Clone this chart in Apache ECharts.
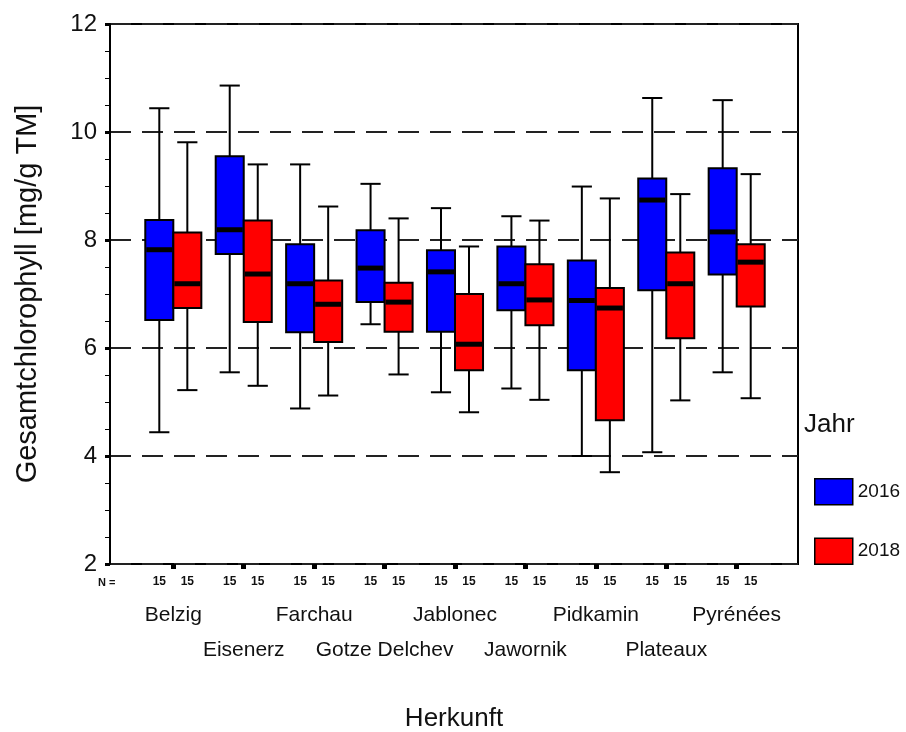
<!DOCTYPE html>
<html><head><meta charset="utf-8">
<script src="https://cdn.jsdelivr.net/npm/echarts@6/dist/echarts.min.js"></script>
<style>html,body{margin:0;padding:0;background:#fff}#c{width:906px;height:732px}</style>
</head><body><div id="c"></div>
<script>
// ---- data ----
const categories = ['Belzig','Eisenerz','Farchau','Gotze Delchev','Jablonec','Jawornik','Pidkamin','Plateaux','Pyrénées'];
const years = ['2016','2018'];
// [min, Q1, median, Q3, max]
const stats2016 = [
  [4.44, 6.52, 7.82, 8.37, 10.44],
  [5.55, 7.74, 8.19, 9.55, 10.86],
  [4.88, 6.29, 7.19, 7.92, 9.40],
  [6.44, 6.85, 7.48, 8.18, 9.04],
  [5.18, 6.30, 7.41, 7.81, 8.59],
  [5.25, 6.70, 7.19, 7.88, 8.44],
  [4.00, 5.59, 6.88, 7.62, 8.99],
  [4.07, 7.07, 8.74, 9.14, 10.63],
  [5.55, 7.36, 8.15, 9.33, 10.59]
];
const stats2018 = [
  [5.22, 6.74, 7.19, 8.14, 9.81],
  [5.30, 6.48, 7.37, 8.36, 9.40],
  [5.12, 6.11, 6.81, 7.25, 8.62],
  [5.51, 6.30, 6.85, 7.21, 8.40],
  [4.81, 5.59, 6.07, 7.00, 7.88],
  [5.04, 6.42, 6.89, 7.55, 8.36],
  [3.70, 4.66, 6.74, 7.11, 8.77],
  [5.03, 6.18, 7.19, 7.77, 8.85],
  [5.07, 6.77, 7.59, 7.92, 9.22]
];
const n2016 = [15,15,15,15,15,15,15,15,15];
const n2018 = [15,15,15,15,15,15,15,15,15];
const yMin = 2, yMax = 12, yStep = 2;

// ---- chart ----
const FONT = 'Liberation Sans, Arial, sans-serif';
const chart = echarts.init(document.getElementById('c'), null, {renderer: 'canvas'});

function makeRender(side) {
  return function (params, api) {
    const i = api.value(0);
    const band = api.size([1, 0])[0];
    const bw = band * 0.398;
    const capW = bw * 0.72;
    const pMin = api.coord([i, api.value(1)]);
    const cx = pMin[0] + side * bw / 2;
    const y0 = pMin[1];
    const yQ1 = api.coord([i, api.value(2)])[1];
    const yMed = api.coord([i, api.value(3)])[1];
    const yQ3 = api.coord([i, api.value(4)])[1];
    const yMx = api.coord([i, api.value(5)])[1];
    const ls = {stroke: '#000', lineWidth: 2};
    return {type: 'group', children: [
      {type: 'line', shape: {x1: cx, y1: yMx, x2: cx, y2: yQ3}, style: ls},
      {type: 'line', shape: {x1: cx, y1: yQ1, x2: cx, y2: y0}, style: ls},
      {type: 'line', shape: {x1: cx - capW / 2, y1: yMx, x2: cx + capW / 2, y2: yMx}, style: ls},
      {type: 'line', shape: {x1: cx - capW / 2, y1: y0, x2: cx + capW / 2, y2: y0}, style: ls},
      {type: 'rect', shape: {x: cx - bw / 2, y: yQ3, width: bw, height: yQ1 - yQ3},
        style: {fill: api.visual('color'), stroke: '#000', lineWidth: 2}},
      {type: 'line', shape: {x1: cx - bw / 2 + 1, y1: yMed, x2: cx + bw / 2 - 1, y2: yMed},
        style: {stroke: '#000', lineWidth: 5}}
    ]};
  };
}

const colors = ['#0000ff', '#ff0000'];
const allStats = [stats2016, stats2018];

const option = {
  animation: false,
  backgroundColor: '#fff',
  textStyle: {fontFamily: FONT},
  title: {text: 'Jahr', left: 804, top: 412, padding: 0,
    textStyle: {fontSize: 26, fontWeight: 'normal', color: '#111', fontFamily: FONT}},
  legend: {
    orient: 'vertical', left: 814, top: 478, padding: 0,
    itemWidth: 38, itemHeight: 26, itemGap: 32, icon: 'rect',
    textStyle: {fontSize: 19, color: '#111', fontFamily: FONT},
    data: years.map((y, k) => ({name: y, itemStyle: {color: colors[k], borderColor: '#000', borderWidth: 1.5}}))
  },
  grid: [
    {left: 110, right: 108, top: 24, bottom: 168, show: true, borderColor: '#000', borderWidth: 2,
      containLabel: false, outerBoundsMode: 'none'},
    {left: 138.1, right: 134.1, top: 24, bottom: 168, show: false, containLabel: false, outerBoundsMode: 'none'}
  ],
  xAxis: [
    {gridIndex: 0, type: 'value', min: 0, max: 1, show: true,
      axisLine: {show: false}, axisTick: {show: false}, axisLabel: {show: false}, splitLine: {show: false},
      name: 'Herkunft', nameLocation: 'middle', nameGap: 142,
      nameTextStyle: {fontSize: 26, color: '#111', fontFamily: FONT}},
    {gridIndex: 1, type: 'category', data: categories, boundaryGap: true,
      axisLine: {show: false},
      axisTick: {show: true, alignWithLabel: true, length: 5, lineStyle: {width: 5, color: '#000'}},
      axisLabel: {
        interval: 0, margin: 11, color: '#111', fontFamily: FONT,
        formatter: function (v, idx) {
          const line1 = '{n|' + n2016[idx] + '}{n|' + n2018[idx] + '}';
          return line1 + '\n' + (idx % 2 === 0 ? '{a|' + v + '}' : '{b|' + v + '}');
        },
        rich: {
          n: {fontSize: 12, fontWeight: 'bold', width: 28, align: 'center', lineHeight: 14, color: '#111', fontFamily: FONT},
          a: {fontSize: 21, lineHeight: 52, align: 'center', color: '#111', fontFamily: FONT},
          b: {fontSize: 21, lineHeight: 122, align: 'center', color: '#111', fontFamily: FONT}
        }
      },
      splitLine: {show: false}}
  ],
  yAxis: [
    {gridIndex: 0, type: 'value', min: yMin, max: yMax, interval: yStep,
      axisLine: {show: true, lineStyle: {color: '#000', width: 2}},
      axisTick: {show: true, length: 5, lineStyle: {width: 3, color: '#000'}},
      minorTick: {show: true, splitNumber: 4, length: 5, lineStyle: {width: 1, color: '#000'}},
      axisLabel: {fontSize: 24, color: '#111', margin: 13, fontFamily: FONT},
      splitLine: {show: true, lineStyle: {type: [21, 11], width: 2, color: '#222'}},
      name: 'Gesamtchlorophyll [mg/g TM]', nameLocation: 'middle', nameGap: 68,
      nameTextStyle: {fontSize: 29, color: '#111', fontFamily: FONT}},
    {gridIndex: 1, type: 'value', min: yMin, max: yMax, show: false, splitLine: {show: false}}
  ],
  graphic: [
    {type: 'text', left: 98, top: 577, style: {text: 'N =', font: 'bold 11px Liberation Sans', fill: '#111'}}
  ],
  series: allStats.map((st, k) => ({
    name: years[k], type: 'custom', xAxisIndex: 1, yAxisIndex: 1,
    itemStyle: {color: colors[k]},
    encode: {x: 0, y: [1, 2, 3, 4, 5]},
    renderItem: makeRender(k === 0 ? -1 : 1),
    data: st.map((s, i) => [i].concat(s))
  }))
};
chart.setOption(option);
</script></body></html>
